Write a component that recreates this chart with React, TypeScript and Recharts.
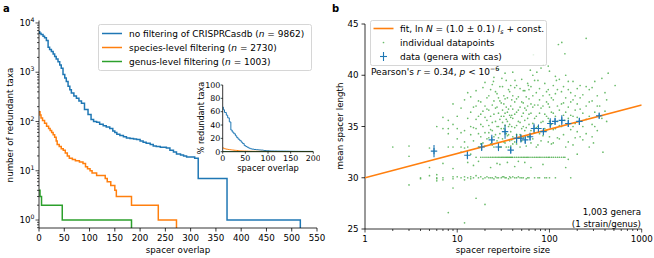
import React from "react"
import { LineChart, Line, XAxis, YAxis, ScatterChart, Scatter, ErrorBar } from "recharts"

const BLUE = "#1f77b4"
const ORANGE = "#ff7f0e"
const GREEN = "#2ca02c"
const FONT = "'DejaVu Sans', sans-serif"

// ---- panel a: redundant taxa vs spacer overlap ----
const nAll = 9862
const nSpecies = 2730
const nGenus = 1003

const overlapAll = [0, 1.4, 4, 8, 11, 14.6, 18, 21, 24.5, 28, 31, 34, 37.6, 41, 44, 47.5, 51, 54, 57.5, 61, 64, 69, 74, 79, 84, 90, 97, 103, 108, 114, 120, 127, 133, 140, 146, 150, 154, 160, 167, 173, 180, 187, 193, 200, 206, 212, 220, 226, 232, 240, 246, 252, 259, 266, 272, 280, 286, 292, 300, 308, 315, 372, 517]
const taxaAll = [6600, 6200, 5800, 5400, 5000, 4400, 3200, 2900, 2650, 2350, 2080, 1850, 1630, 1400, 1200, 900, 760, 650, 520, 440, 380, 330, 295, 260, 235, 175, 138, 110, 100, 96, 88, 82, 77, 72, 64, 60, 55, 52, 49, 46, 45, 44, 43, 40, 38, 36, 34, 32, 31, 30, 30, 29, 26, 24, 22, 21, 20, 19, 19, 18, 7, 1, 0]

const overlapSpecies = [0, 2, 4, 7, 11, 15, 19, 22, 25, 28, 31, 34, 36, 40, 44, 48, 52, 56, 60, 66, 72, 80, 87, 92, 96, 101, 105, 114, 126, 131, 135, 142, 150, 153, 183, 236, 272]
const taxaSpecies = [158, 135, 118, 105, 92, 80, 72, 66, 60, 54, 48, 40, 34, 31, 28, 26, 23, 20, 18, 17, 16, 15, 14, 12, 11, 10, 9, 8, 8, 7, 6, 5, 4, 3, 2, 1, 0]

const overlapGenus = [0, 2, 5, 46, 183]
const taxaGenus = [4, 3, 2, 1, 0]

const xTicksA = [0, 50, 100, 150, 200, 250, 300, 350, 400, 450, 500, 550]
const yTicksA = [0.7, 0.8, 0.9, 1, 2, 3, 4, 5, 6, 7, 8, 9, 10, 20, 30, 40, 50, 60, 70, 80, 90, 100, 200, 300, 400, 500, 600, 700, 800, 900, 1000, 2000, 3000, 4000, 5000, 6000, 7000, 8000, 9000, 10000]
const insetXTicks = [0, 50, 100, 150, 200]
const insetYTicks = [0, 20, 40, 60, 80, 100]

// ---- panel b: mean spacer length vs repertoire size ----
const pointsLow: [number, number][] = [
  [2, 33.0], [3, 33.1], [3, 32.1], [3, 29.3], [4, 30.0], [4, 29.9], [5, 30.2], [5, 32.9], [5, 31.0],
  [6, 35.0], [6, 30.3], [6, 30.0], [6, 29.7], [6, 29.9], [7, 35.9], [7, 34.8], [7, 31.4], [7, 30.0], [7, 29.8],
  [8, 35.6], [8, 34.8], [8, 34.3], [8, 33.0], [8, 26.6], [9, 37.2], [9, 33.0], [9, 30.9], [9, 30.1], [9, 29.9], [9, 29.0], [9, 35.2],
]
const pointsMid: [number, number][] = [
  [10, 34.8], [10, 33.8], [10, 30.1], [10, 36.0],
  [11, 36.8], [11, 33.0], [11, 30.0], [11, 34.4], [11, 32.5],
  [12, 34.6], [12, 33.5], [12, 32.9], [12, 30.1], [12, 29.8], [12, 25.6], [12, 37.6],
  [13, 33.0], [13, 31.5], [13, 30.0], [13, 35.8], [13, 38.3],
  [14, 37.9], [14, 36.4], [14, 35.0], [14, 34.2], [14, 32.3], [14, 30.1], [14, 29.9],
  [15, 33.6], [15, 31.2], [15, 30.0], [15, 36.9], [15, 34.9],
  [16, 38.5], [16, 37.0], [16, 35.7], [16, 34.8], [16, 32.0], [16, 30.2], [16, 28.0],
  [17, 36.0], [17, 33.0], [17, 31.6], [17, 30.0], [17, 34.3], [17, 37.5],
  [18, 37.4], [18, 35.2], [18, 34.0], [18, 32.0], [18, 30.1], [18, 33.3], [18, 36.2],
  [19, 36.5], [19, 33.4], [19, 32.0], [19, 29.9], [19, 35.0], [19, 38.8],
  [20, 39.3], [20, 35.9], [20, 34.4], [20, 32.0], [20, 30.0], [20, 27.4], [20, 33.1], [20, 37.0],
  [21, 37.8], [21, 33.8], [21, 32.0], [21, 30.1], [21, 35.6], [21, 36.7],
  [22, 36.6], [22, 35.1], [22, 32.0], [22, 30.0], [22, 33.9], [22, 38.0], [22, 34.4],
  [23, 38.6], [23, 34.7], [23, 32.0], [23, 31.0], [23, 36.0], [23, 33.3], [23, 30.0],
  [24, 37.1], [24, 33.2], [24, 32.0], [24, 30.0], [24, 35.4], [24, 39.1], [24, 34.6],
  [25, 39.8], [25, 36.2], [25, 34.0], [25, 32.0], [25, 29.9], [25, 37.5], [25, 33.0], [24.7, 39.4],
  [26, 35.5], [26, 32.0], [26, 30.1], [26, 36.8], [26, 34.2], [26, 38.4],
  [27, 38.2], [27, 36.9], [27, 33.6], [27, 32.0], [27, 35.0], [27, 30.0], [27, 31.4],
  [28, 40.6], [28, 35.0], [28, 32.0], [28, 30.0], [28, 37.8], [28, 33.9], [28, 36.3],
  [29, 37.5], [29, 34.3], [29, 32.0], [29, 31.3], [29, 35.7], [29, 38.9], [29, 33.0],
  [30, 36.0], [30, 33.0], [30, 32.0], [30, 30.0], [30, 34.8], [30, 37.3], [30.5, 39.7],
  [31, 38.9], [31, 35.4], [31, 32.0], [31, 36.6], [31, 33.8], [31, 30.1],
  [32, 37.2], [32, 34.8], [32, 32.0], [32, 30.1], [32, 36.0], [32, 33.5], [32, 38.0],
  [33, 36.3], [33, 33.4], [33, 32.0], [33, 35.1], [33, 37.7], [33, 30.0], [33, 40.2],
  [34, 39.5], [34, 35.7], [34, 32.0], [34, 30.0], [34, 34.3], [34, 36.9], [34, 33.0],
  [35, 37.8], [35, 34.1], [35, 32.0], [35, 35.5], [35, 36.4], [35, 31.5],
  [36, 36.7], [36, 33.0], [36, 32.0], [36, 29.9], [36, 38.6], [36, 35.0], [36, 34.2],
  [37, 38.4], [37, 35.2], [37, 32.0], [37, 36.1], [37, 33.6], [37, 30.1],
  [38, 37.0], [38, 34.5], [38, 32.0], [38, 30.0], [38, 35.9], [38, 39.0], [38, 33.1],
  [39, 36.1], [39, 33.7], [39, 32.0], [39, 37.6], [39, 35.0],
  [40, 40.3], [40, 38.0], [40, 35.8], [40, 32.0], [40, 30.1], [40, 34.0], [40, 36.7], [40, 33.3],
  [42, 37.4], [42, 34.9], [42, 32.0], [42, 31.1], [42, 36.2], [42, 38.8], [42, 33.5], [42, 30.0], [42.3, 39.5],
  [44, 39.0], [44, 36.4], [44, 33.3], [44, 32.0], [44, 30.0], [44, 35.1], [44, 37.7], [44, 34.2],
  [46, 37.9], [46, 35.5], [46, 32.0], [46, 36.6], [46, 33.9], [46, 31.6], [46, 30.1],
  [48, 38.7], [48, 36.9], [48, 34.2], [48, 32.0], [48, 30.0], [48, 35.4], [48, 33.0],
  [50, 39.6], [50, 36.0], [50, 33.6], [50, 32.0], [50, 37.4], [50, 34.8], [50, 30.0],
  [52, 37.3], [52, 35.0], [52, 32.0], [52, 30.0], [52, 36.3], [52, 38.5], [52, 33.9],
  [54, 38.5], [54, 34.6], [54, 32.0], [54, 36.8], [54, 35.6], [54, 31.5],
  [56, 36.6], [56, 33.1], [56, 32.0], [56, 29.9], [56, 37.9], [56, 34.9],
  [58, 39.2], [58, 35.8], [58, 32.0], [58, 34.0], [58, 37.0], [58, 30.0], [59, 39.0],
  [60, 37.7], [60, 34.0], [60, 32.0], [60, 30.0], [60, 36.2], [60, 38.6], [60, 35.2],
  [63, 38.9], [63, 36.3], [63, 32.0], [63, 31.0], [63, 34.6], [63, 37.2], [63, 33.4], [62, 40.5],
  [66, 40.0], [66, 35.3], [66, 32.0], [66, 36.9], [66, 38.0], [66, 33.8], [67, 42.0],
  [69, 37.1], [69, 34.4], [69, 32.0], [69, 30.0], [69, 35.8], [69, 39.5],
  [72, 38.3], [72, 36.0], [72, 32.0], [72, 34.9], [72, 33.0], [73, 40.3],
  [75, 39.5], [75, 35.0], [75, 33.2], [75, 32.0], [75, 37.1], [75, 30.0],
  [78, 37.6], [78, 34.3], [78, 32.0], [78, 30.0], [78, 36.3], [78, 38.7],
  [81, 40.7], [81, 36.8], [81, 32.0], [81, 35.4], [81, 33.6], [86, 41.0],
  [85, 38.0], [85, 35.5], [85, 32.0], [85, 31.3], [85, 37.0], [85, 34.1],
  [89, 39.2], [89, 36.2], [89, 32.0], [89, 34.8], [89, 30.0],
  [93, 37.4], [93, 34.6], [93, 32.0], [93, 30.0], [93, 36.0], [93, 38.4],
  [97, 38.6], [97, 35.8], [97, 32.0], [97, 33.5], [97, 37.2], [97, 40.9],
]
const pointsHigh: [number, number][] = [
  [100, 40.4], [100, 36.9], [100, 34.0], [100, 32.0], [100, 35.5], [100, 38.1], [100, 30.0],
  [105, 37.8], [105, 35.2], [105, 32.0], [105, 36.4], [105, 33.3],
  [110, 39.0], [110, 36.3], [110, 33.4], [110, 32.0], [110, 37.6], [110, 34.7],
  [116, 38.2], [116, 34.8], [116, 32.0], [116, 30.0], [116, 36.0], [116, 39.9],
  [122, 37.0], [122, 35.5], [122, 32.0], [122, 33.9], [122, 38.6], [119, 39.5],
  [125, 43.0], [128, 39.6], [128, 36.6], [128, 33.8], [128, 35.1], [128, 32.0],
  [135, 38.4], [135, 35.0], [135, 32.0], [135, 37.2], [136, 43.2],
  [142, 37.3], [142, 34.2], [142, 32.0], [142, 36.1], [142, 38.9],
  [147, 42.1], [147, 35.6], [147, 32.0],
  [150, 40.0], [150, 36.4], [150, 33.0], [150, 31.0], [150, 37.8],
  [160, 38.6], [160, 35.8], [160, 33.5], [160, 39.4], [160, 36.9], [160, 31.8],
  [170, 37.4], [170, 34.7], [170, 30.0], [170, 36.1], [170, 38.3],
  [180, 39.4], [180, 36.0], [180, 33.2], [180, 35.0], [180, 37.6],
  [190, 38.0], [190, 35.3], [190, 36.6], [190, 33.9],
  [200, 37.2], [200, 34.5], [200, 32.3], [200, 38.7], [200, 35.9],
  [215, 39.0], [215, 36.7], [215, 34.0], [215, 37.8],
  [230, 38.1], [230, 35.0], [230, 33.7], [230, 36.3],
  [250, 43.6], [250, 37.0], [250, 34.3], [250, 38.9], [250, 35.7],
  [270, 38.6], [270, 36.0], [270, 33.0], [270, 37.4],
  [290, 37.5], [290, 35.2], [290, 38.8], [290, 34.0], [300, 33.4],
  [310, 39.4], [310, 36.4], [310, 35.0],
  [330, 38.0], [330, 34.6], [330, 37.0],
  [350, 37.0], [350, 36.0], [370, 39.7], [370, 35.8], [380, 32.5],
  [400, 38.3], [400, 36.5], [417, 37.6], [417, 35.5], [433, 40.2], [515, 39.0],
]

// genera with cas: repertoire size, mean length, error
const casSize = [5.6, 12.9, 18.4, 23.7, 28, 33, 38, 44, 49, 54.6, 61.6, 68, 76, 86, 102, 115, 136, 160, 211, 346]
const casLength = [32.6, 32.2, 33.0, 33.7, 33.0, 34.5, 32.7, 33.85, 33.85, 33.7, 34.0, 34.8, 34.8, 34.5, 35.3, 35.5, 35.6, 35.3, 35.5, 36.05]
const casErr = [0.6, 0.4, 0.4, 0.5, 0.4, 0.7, 0.35, 0.45, 0.4, 0.4, 0.4, 0.5, 0.4, 0.35, 0.5, 0.35, 0.5, 0.35, 0.35, 0.25]

const fitSize = [1, 1000]
const fitLength = [30.0, 37.1]

const xTicksB = [1, 2, 3, 4, 5, 6, 7, 8, 9, 10, 20, 30, 40, 50, 60, 70, 80, 90, 100, 200, 300, 400, 500, 600, 700, 800, 900, 1000]
const yTicksB = [25, 30, 35, 40, 45]

// ---- derived tables ----
const FLOOR = 0.3 // zero counts drawn below the log axis, clipped
const series = (xs: number[], ys: number[]) => xs.map((x, i) => ({ x, y: ys[i] === 0 ? FLOOR : ys[i] }))
const percent = (xs: number[], ys: number[], n: number) => {
  const pts = xs.map((x, i) => ({ x, y: (ys[i] / n) * 100 })).filter((p) => p.x <= 200)
  pts.push({ x: 200, y: pts[pts.length - 1].y })
  return pts
}

const dots = [...pointsLow, ...pointsMid, ...pointsHigh].map(([x, y]) => ({ x, y }))
const casData = casSize.map((x, i) => ({ x, y: casLength[i], err: casErr[i] }))
const fitData = fitSize.map((x, i) => ({ x, y: fitLength[i] }))

const isMajor = (v: number) => Math.abs(Math.log10(v) - Math.round(Math.log10(v))) < 1e-9

const txt = { fontFamily: FONT, fill: "#000" }

const LogYTick = ({ x, y, payload }: any) => {
  const v = payload.value
  const major = isMajor(v)
  return (
    <g>
      <line x1={x - (major ? 3.5 : 2)} x2={x} y1={y} y2={y} stroke="#000" strokeWidth={0.7} />
      {major && (
        <text x={x - 4.5} y={y + 3.1} textAnchor="end" fontSize={8.7} {...txt}>
          10<tspan dy={-4} fontSize={6.2}>{Math.round(Math.log10(v))}</tspan>
        </text>
      )}
    </g>
  )
}

const LinXTick = ({ x, y, payload }: any) => (
  <g>
    <line x1={x} x2={x} y1={y} y2={y + 3.5} stroke="#000" strokeWidth={0.8} />
    <text x={x} y={y + 13.4} textAnchor="middle" fontSize={8.7} {...txt}>{payload.value}</text>
  </g>
)

const LogXTick = ({ x, y, payload }: any) => {
  const major = isMajor(payload.value)
  return (
    <g>
      <line x1={x} x2={x} y1={y} y2={y + (major ? 3.5 : 2)} stroke="#000" strokeWidth={0.7} />
      {major && (
        <text x={x} y={y + 13.4} textAnchor="middle" fontSize={8.7} {...txt}>{payload.value}</text>
      )}
    </g>
  )
}

const LinYTick = ({ x, y, payload }: any) => (
  <g>
    <line x1={x - 3.5} x2={x} y1={y} y2={y} stroke="#000" strokeWidth={0.8} />
    <text x={x - 6.5} y={y + 3.1} textAnchor="end" fontSize={8.7} {...txt}>{payload.value}</text>
  </g>
)

const InsetXTick = ({ x, y, payload }: any) => (
  <g>
    <line x1={x} x2={x} y1={y} y2={y + 2} stroke="#000" strokeWidth={0.7} />
    <text x={x} y={y + 9.5} textAnchor="middle" fontSize={7.9} {...txt}>{payload.value}</text>
  </g>
)

const InsetYTick = ({ x, y, payload }: any) => (
  <g>
    <line x1={x - 2} x2={x} y1={y} y2={y} stroke="#000" strokeWidth={0.7} />
    <text x={x - 2.5} y={y + 2.8} textAnchor="end" fontSize={7.9} {...txt}>{payload.value}</text>
  </g>
)

const GreenDot = (p: any) => <circle cx={p.cx} cy={p.cy} r={0.85} fill={GREEN} fillOpacity={0.7} />
const NoDot = () => <g />
const PlusMark = (p: any) => (
  <g stroke={BLUE} strokeWidth={1.1}>
    <line x1={p.cx - 3.2} x2={p.cx + 3.2} y1={p.cy} y2={p.cy} />
    <line x1={p.cx} x2={p.cx} y1={p.cy - 3.2} y2={p.cy + 3.2} />
  </g>
)

const axisLine = { stroke: "#000", strokeWidth: 0.8 }

function PanelA() {
  return (
    <div style={{ position: "absolute", left: 0, top: 0 }}>
      <LineChart width={330} height={258} margin={{ top: 20.5, right: 13, bottom: 10, left: 9 }}>
        <XAxis type="number" dataKey="x" domain={[0, 550]} ticks={xTicksA} interval={0} tickSize={0} tickMargin={0}
          tick={LinXTick} tickLine={false} axisLine={axisLine} height={20} allowDataOverflow />
        <YAxis type="number" scale="log" domain={[0.689, 11220]} ticks={yTicksA} interval={0} tickSize={0} tickMargin={0}
          tick={LogYTick} tickLine={false} axisLine={axisLine} width={30} allowDataOverflow />
        <Line data={series(overlapAll, taxaAll)} dataKey="y" type="stepAfter" stroke={BLUE} strokeWidth={1.5} dot={false} isAnimationActive={false} />
        <Line data={series(overlapSpecies, taxaSpecies)} dataKey="y" type="stepAfter" stroke={ORANGE} strokeWidth={1.5} dot={false} isAnimationActive={false} />
        <Line data={series(overlapGenus, taxaGenus)} dataKey="y" type="stepAfter" stroke={GREEN} strokeWidth={1.5} dot={false} isAnimationActive={false} />
      </LineChart>
    </div>
  )
}

function Inset() {
  return (
    <div style={{ position: "absolute", left: 195, top: 80 }}>
      <LineChart width={125} height={95} margin={{ top: 5, right: 6.7, bottom: 3.3, left: 7.7 }}>
        <XAxis type="number" dataKey="x" domain={[0, 200]} ticks={insetXTicks} interval={0} tickSize={0} tickMargin={0}
          tick={InsetXTick} tickLine={false} axisLine={axisLine} height={20} allowDataOverflow />
        <YAxis type="number" domain={[0, 100]} ticks={insetYTicks} interval={0} tickSize={0} tickMargin={0}
          tick={InsetYTick} tickLine={false} axisLine={axisLine} width={20} allowDataOverflow />
        <Line data={percent(overlapAll, taxaAll, nAll)} dataKey="y" type="stepAfter" stroke={BLUE} strokeWidth={1} dot={false} isAnimationActive={false} />
        <Line data={percent(overlapSpecies, taxaSpecies, nSpecies)} dataKey="y" type="stepAfter" stroke={ORANGE} strokeWidth={1} dot={false} isAnimationActive={false} />
        <Line data={percent(overlapGenus, taxaGenus, nGenus)} dataKey="y" type="stepAfter" stroke={GREEN} strokeWidth={1} dot={false} isAnimationActive={false} />
      </LineChart>
    </div>
  )
}

function PanelB() {
  return (
    <div style={{ position: "absolute", left: 330, top: 0 }}>
      <ScatterChart width={324} height={258} margin={{ top: 24, right: 12.3, bottom: 9, left: 5 }}>
        <XAxis type="number" dataKey="x" scale="log" domain={[1, 1000]} ticks={xTicksB} interval={0} tickSize={0} tickMargin={0}
          tick={LogXTick} tickLine={false} axisLine={axisLine} height={20} allowDataOverflow />
        <YAxis type="number" dataKey="y" domain={[25, 45]} ticks={yTicksB} interval={0} tickSize={0} tickMargin={0}
          tick={LinYTick} tickLine={false} axisLine={axisLine} width={30} allowDataOverflow />
        <Scatter data={dots} shape={GreenDot} isAnimationActive={false} />
        <Scatter data={fitData} shape={NoDot} line={{ stroke: ORANGE, strokeWidth: 1.6 }} lineType="joint" isAnimationActive={false} />
        <Scatter data={casData} shape={PlusMark} isAnimationActive={false}>
          <ErrorBar dataKey="err" direction="y" width={0} stroke={BLUE} strokeWidth={1.1} />
        </Scatter>
      </ScatterChart>
    </div>
  )
}

function Overlay() {
  const it = { fontStyle: "italic" as const }
  return (
    <svg width={654} height={258} style={{ position: "absolute", left: 0, top: 0, pointerEvents: "none" }}>
      <g {...txt}>
        <text x={3} y={12} fontSize={10} fontWeight="bold">a</text>
        <text x={332} y={12} fontSize={10} fontWeight="bold">b</text>

        {/* panel a legend */}
        <rect x={98.5} y={24.5} width={213} height={46} rx={2} fill="#fff" fillOpacity={0.8} stroke="#ccc" strokeWidth={0.8} />
        <line x1={102} x2={122} y1={33.5} y2={33.5} stroke={BLUE} strokeWidth={1.5} />
        <line x1={102} x2={122} y1={47.5} y2={47.5} stroke={ORANGE} strokeWidth={1.5} />
        <line x1={102} x2={122} y1={61.5} y2={61.5} stroke={GREEN} strokeWidth={1.5} />
        <text x={129} y={36.8} fontSize={9}>no filtering of CRISPRCasdb (<tspan {...it}>n</tspan> = 9862)</text>
        <text x={129} y={50.8} fontSize={9}>species-level filtering (<tspan {...it}>n</tspan> = 2730)</text>
        <text x={129} y={64.8} fontSize={9}>genus-level filtering (<tspan {...it}>n</tspan> = 1003)</text>

        {/* panel a axis labels */}
        <text x={178} y={253} fontSize={8.7} textAnchor="middle">spacer overlap</text>
        <text transform="translate(13,125) rotate(-90)" fontSize={8.7} textAnchor="middle">number of redundant taxa</text>
        <text x={268} y={171} fontSize={8.3} textAnchor="middle">spacer overlap</text>
        <text transform="translate(204,118) rotate(-90)" fontSize={8.1} textAnchor="middle">% redundant taxa</text>

        {/* panel b legend */}
        <rect x={370.5} y={20.5} width={176} height={45} rx={2} fill="#fff" fillOpacity={0.8} stroke="#ccc" strokeWidth={0.8} />
        <line x1={373.5} x2={393.5} y1={28.5} y2={28.5} stroke={ORANGE} strokeWidth={1.6} />
        <circle cx={383.5} cy={42.5} r={0.85} fill={GREEN} fillOpacity={0.7} />
        <g stroke={BLUE} strokeWidth={1.1}>
          <line x1={380} x2={387} y1={56.5} y2={56.5} />
          <line x1={383.5} x2={383.5} y1={52} y2={61} />
        </g>
        <text x={400} y={31.6} fontSize={9}>
          fit, ln <tspan {...it}>N</tspan> = (1.0 ± 0.1) <tspan {...it}>l</tspan>
          <tspan dy={2} fontSize={6.3} {...it}>s</tspan>
          <tspan dy={-2}> + const.</tspan>
        </text>
        <text x={400} y={45.6} fontSize={9}>individual datapoints</text>
        <text x={400} y={59.6} fontSize={9}>data (genera with cas)</text>
        <text x={371} y={75} fontSize={9}>
          Pearson's <tspan {...it}>r</tspan> = 0.34, <tspan {...it}>p</tspan> {"<"} 10
          <tspan dy={-4} fontSize={6.3}>−6</tspan>
        </text>

        <text x={641} y={215} fontSize={8.7} textAnchor="end">1,003 genera</text>
        <text x={641} y={227} fontSize={8.7} textAnchor="end">(1 strain/genus)</text>

        {/* panel b axis labels */}
        <text x={503} y={253} fontSize={8.7} textAnchor="middle">spacer repertoire size</text>
        <text transform="translate(343,126) rotate(-90)" fontSize={8.7} textAnchor="middle">mean spacer length</text>
      </g>
    </svg>
  )
}

export default function App() {
  return (
    <div style={{ position: "absolute", left: 0, top: 0, width: 654, height: 258, background: "#fff", overflow: "hidden" }}>
      <PanelA />
      <Inset />
      <PanelB />
      <Overlay />
    </div>
  )
}
